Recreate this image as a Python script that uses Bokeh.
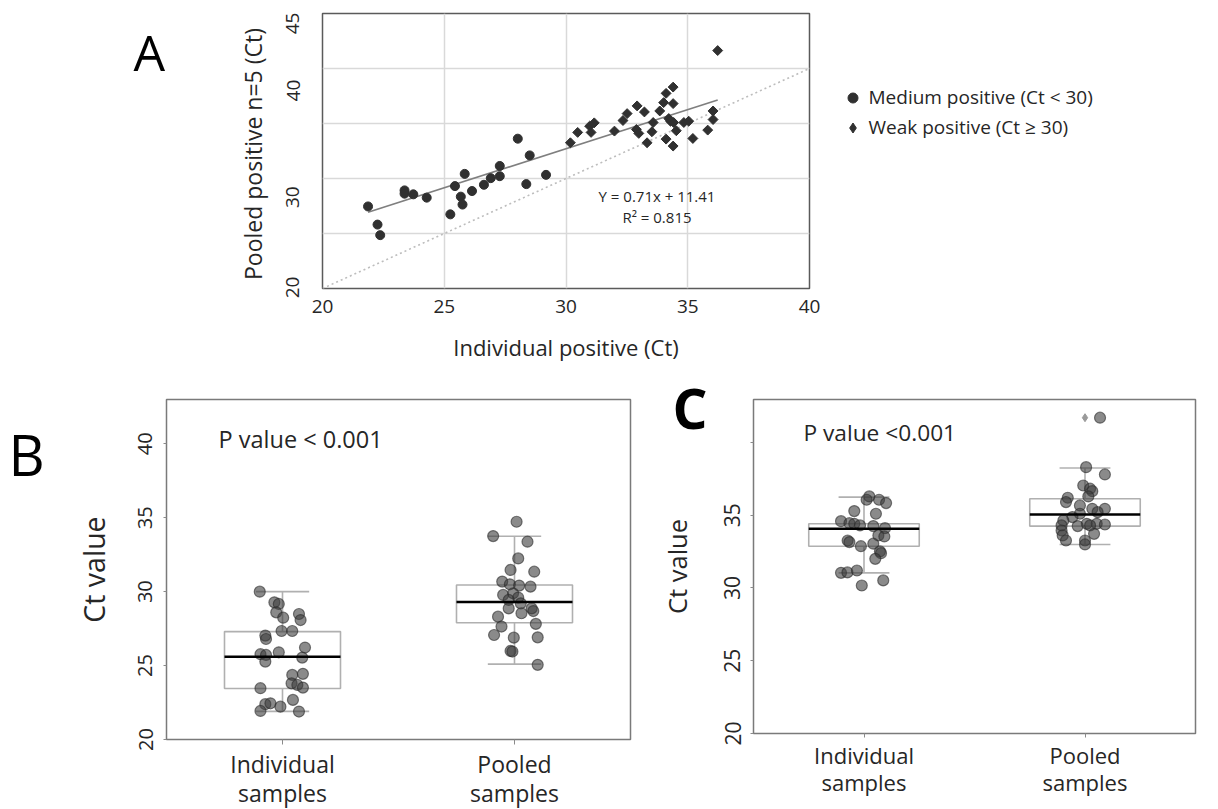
import numpy as np
from bokeh.plotting import figure
from bokeh.layouts import column, row
from bokeh.models import Range1d, FixedTicker, Label, Legend, LegendItem, GridBox
from bokeh.embed import file_html
from bokeh.resources import INLINE

FONT = "Open Sans"
TXT = "#262626"

# ---------------- Panel A data ----------------
medium_x = [21.87, 22.26, 22.37, 23.37, 23.37, 23.73, 24.28, 25.25, 25.44, 25.68, 25.75,
            25.84, 26.14, 26.63, 26.91, 27.28, 27.28, 28.02, 28.37, 28.51, 29.18]
medium_y = [27.46, 25.81, 24.85, 28.92, 28.62, 28.56, 28.26, 26.74, 29.31, 28.35, 27.63,
            30.42, 28.86, 29.43, 30.03, 31.14, 30.21, 33.62, 29.49, 32.10, 30.33]
weak_x = [30.18, 30.48, 30.97, 31.03, 31.16, 31.99, 32.34, 32.51, 32.92, 32.89, 32.99,
          33.22, 33.33, 33.53, 33.58, 33.85, 34.11, 34.01, 34.11, 34.22, 34.29, 34.40,
          34.40, 34.40, 34.42, 34.53, 34.84, 35.04, 35.21, 35.82, 36.04, 36.04, 36.23]
weak_y = [33.25, 34.19, 34.76, 34.19, 35.06, 34.31, 35.27, 35.90, 36.60, 34.46, 34.10,
          36.05, 33.25, 34.25, 35.09, 36.14, 37.74, 36.90, 33.58, 35.45, 35.21, 38.31,
          36.81, 32.95, 35.09, 34.34, 35.09, 35.21, 33.64, 34.40, 36.14, 35.36, 41.63]
fit_slope = 0.71
fit_intercept = 11.41
a_xticks = [20, 25, 30, 35, 40]
a_ygrid = [25, 30, 35, 40]
# y tick labels of panel A, placed where the source figure prints them
a_ytick_pos = [20.1, 28.3, 38.0, 44.1]
a_ytick_lab = ["20", "30", "40", "45"]
legend_labels = ["Medium positive (Ct < 30)", "Weak positive (Ct \u2265 30)"]
panel_letters = ["A", "B", "C"]

# ---------------- Panel B data ----------------
categories = ["Individual\nsamples", "Pooled\nsamples"]
b_ind = [30.0, 29.28, 29.17, 28.6, 28.24, 28.49, 28.08, 27.03, 26.80, 27.34, 27.34, 26.22,
         25.77, 25.72, 25.9, 25.54, 25.27, 24.37, 24.44, 23.8, 23.69, 23.51, 23.47, 22.68,
         22.39, 22.45, 21.93, 22.22, 21.89]
b_ind_jit = [-0.098, -0.035, -0.016, -0.027, 0.003, 0.071, 0.078, -0.074, -0.071, -0.004,
             0.042, 0.097, -0.095, -0.071, -0.016, 0.085, -0.074, 0.042, 0.088, 0.039,
             0.064, 0.088, -0.095, 0.045, -0.074, -0.052, -0.095, -0.009, 0.071]
b_pool = [34.73, 33.76, 33.38, 32.25, 31.47, 31.35, 30.68, 30.5, 30.41, 30.34, 29.78, 29.89,
          29.6, 29.44, 29.21, 28.87, 28.69, 28.54, 28.31, 28.87, 27.82, 27.64, 27.07, 26.89,
          26.91, 25.99, 25.95, 25.05]
b_pool_jit = [0.009, -0.092, 0.056, 0.016, -0.017, 0.085, -0.053, -0.02, 0.02, 0.069,
              -0.049, -0.006, 0.016, -0.025, 0.027, 0.074, 0.081, 0.03, -0.071, -0.025,
              0.092, -0.056, -0.088, -0.003, 0.1, -0.017, -0.009, 0.1]
# box stats: lower whisker, q1, median, q3, upper whisker
b_low = [21.9, 25.1]
b_q1 = [23.45, 27.9]
b_med = [25.6, 29.3]
b_q3 = [27.3, 30.45]
b_high = [30.0, 33.75]
b_yticks = [20, 25, 30, 35, 40]
b_ylabels = ["20", "25", "30", "35", "40"]

# ---------------- Panel C data ----------------
c_ind = [36.29, 36.06, 36.06, 35.83, 35.28, 35.1, 34.59, 34.45, 34.41, 34.3, 34.25, 34.11,
         33.61, 33.54, 33.26, 33.15, 33.04, 32.87, 32.51, 32.39, 32.0, 31.04, 31.07, 31.2,
         30.52, 30.17]
c_ind_jit = [0.024, 0.012, 0.068, 0.1, -0.044, 0.054, -0.104, -0.066, -0.044, -0.018, 0.042,
             0.095, 0.065, 0.092, -0.074, -0.066, 0.042, -0.014, 0.072, 0.077, 0.051, -0.104,
             -0.075, -0.032, 0.087, -0.01]
c_pool = [41.7, 38.3, 37.8, 37.04, 36.82, 36.65, 36.2, 35.9, 36.29, 35.67, 35.44, 35.44,
          35.21, 35.1, 34.87, 34.64, 34.3, 34.41, 34.41, 34.36, 33.95, 34.25, 34.3, 33.72,
          33.61, 33.26, 33.26, 32.99]
c_pool_jit = [0.068, 0.005, 0.09, -0.008, 0.023, 0.033, -0.078, -0.086, 0.015, -0.023, 0.033,
              0.09, 0.057, -0.023, -0.057, -0.098, -0.106, 0.008, 0.053, 0.09, -0.106, -0.033,
              0.023, 0.041, -0.101, -0.086, 0.0, 0.0]
c_low = [31.04, 32.99]
c_q1 = [32.87, 34.25]
c_med = [34.07, 35.05]
c_q3 = [34.41, 36.13]
c_high = [36.24, 38.24]
c_outlier = [41.7]
c_yticks = [20, 25, 30, 35, 40]
c_ylabels = ["20", "25", "30", "35", ""]

PAGE_W, PAGE_H = 1216, 807


def base_axes(p, tick_size, title_size):
    for ax in (p.xaxis[0], p.yaxis[0]):
        ax.axis_line_color = None
        ax.minor_tick_line_color = None
        ax.major_label_text_font = FONT
        ax.major_label_text_color = TXT
        ax.major_label_text_font_size = tick_size
        ax.axis_label_text_font = FONT
        ax.axis_label_text_font_style = "normal"
        ax.axis_label_text_color = TXT
        ax.axis_label_text_font_size = title_size


# ================= Panel A =================
pA = figure(width=1216, height=383, frame_width=487, frame_height=275,
            x_range=Range1d(20, 40), y_range=Range1d(20, 45),
            output_backend="svg", toolbar_location=None,
            min_border_left=322, min_border_right=407, min_border_top=13, min_border_bottom=95)
pA.outline_line_color = "#5a5a5a"
pA.outline_line_width = 1.5
base_axes(pA, "19px", "22px")
pA.yaxis.axis_label_text_font_size = "23px"
pA.xaxis.axis_label = "Individual positive (Ct)"
pA.yaxis.axis_label = "Pooled positive  n=5 (Ct)"
pA.xaxis.ticker = FixedTicker(ticks=a_xticks)
pA.yaxis.ticker = FixedTicker(ticks=a_ytick_pos)
pA.yaxis.major_label_overrides = {float(v): l for v, l in zip(a_ytick_pos, a_ytick_lab)}
pA.yaxis.major_label_orientation = "vertical"
for ax in (pA.xaxis[0], pA.yaxis[0]):
    ax.major_tick_line_color = None
    ax.major_tick_out = 0
    ax.major_tick_in = 0
pA.xaxis.major_label_standoff = 11
pA.yaxis.major_label_standoff = 23
pA.xaxis.axis_label_standoff = 16
pA.yaxis.axis_label_standoff = 15
pA.xgrid.ticker = FixedTicker(ticks=a_xticks[1:-1])
pA.ygrid.ticker = FixedTicker(ticks=a_ygrid)
for g in (pA.xgrid[0], pA.ygrid[0]):
    g.grid_line_color = "#d9d9d9"
    g.grid_line_width = 1.5

pA.line([20, 40], [20, 40], line_color="#bdbdbd", line_width=1.6, line_dash="2 3")
all_x = medium_x + weak_x
fx = np.array([min(all_x), max(all_x)])
pA.line(fx, fit_slope * fx + fit_intercept, line_color="#7f7f7f", line_width=1.6)
pA.scatter(medium_x, medium_y, marker="circle", size=9,
           fill_color="#303030", line_color="#303030")
pA.scatter(weak_x, weak_y, marker="square", angle=np.pi / 4, size=7,
           fill_color="#303030", line_color="#303030")
pA.add_layout(Label(x=334.5, y=92.5, x_units="screen", y_units="screen",
                    text="Y = 0.71x + 11.41", text_align="center", text_baseline="alphabetic",
                    text_font=FONT, text_font_size="15px", text_color=TXT))
pA.add_layout(Label(x=334.5, y=71.5, x_units="screen", y_units="screen",
                    text="R\u00b2 = 0.815", text_align="center", text_baseline="alphabetic",
                    text_font=FONT, text_font_size="15px", text_color=TXT))


# ================= Panels B and C =================
def box_panel(mb_left, fw, mb_right, mb_top, fh, mb_bottom, y_end, ind, ind_jit, pool, pool_jit,
              low, q1, med, q3, high, yticks, ylabels, tick_size, title_size,
              xlab_size, xlab_lh, xtick_out, xstand):
    p = figure(width=mb_left + fw + mb_right, height=mb_top + fh + mb_bottom,
               frame_width=fw, frame_height=fh,
               x_range=Range1d(0, 2), y_range=Range1d(20, y_end),
               output_backend="svg", toolbar_location=None,
               min_border_left=mb_left, min_border_right=mb_right,
               min_border_top=mb_top, min_border_bottom=mb_bottom)
    p.outline_line_color = "#7a7a7a"
    p.outline_line_width = 1.5
    p.grid.visible = False
    base_axes(p, tick_size, title_size)
    centers = [i + 0.5 for i in range(len(categories))]
    p.xaxis.ticker = FixedTicker(ticks=centers)
    p.xaxis.major_label_overrides = {float(c): lab for c, lab in zip(centers, categories)}
    p.xaxis.major_label_text_font_size = xlab_size
    p.xaxis.major_label_text_line_height = xlab_lh
    p.yaxis.ticker = FixedTicker(ticks=yticks)
    p.yaxis.major_label_overrides = {float(v): l for v, l in zip(yticks, ylabels)}
    p.yaxis.major_label_orientation = "vertical"
    p.yaxis.axis_label = "Ct value"
    for ax in (p.xaxis[0], p.yaxis[0]):
        ax.major_tick_line_color = "#8a8a8a"
        ax.major_tick_in = 0
    p.xaxis.major_tick_out = xtick_out
    p.yaxis.major_tick_out = 3
    p.xaxis.major_label_standoff = xstand

    box_c = "#b0b0b0"
    p.vbar(x=centers, width=0.5, bottom=q1, top=q3, fill_color=None,
           line_color=box_c, line_width=1.6)
    p.segment(x0=centers, y0=q3, x1=centers, y1=high, line_color=box_c, line_width=1.6)
    p.segment(x0=centers, y0=low, x1=centers, y1=q1, line_color=box_c, line_width=1.6)
    cx = np.array(centers)
    p.segment(x0=cx - 0.115, y0=high, x1=cx + 0.115, y1=high, line_color=box_c, line_width=1.6)
    p.segment(x0=cx - 0.115, y0=low, x1=cx + 0.115, y1=low, line_color=box_c, line_width=1.6)
    for k, (vals, jit) in enumerate(((ind, ind_jit), (pool, pool_jit))):
        xs = [centers[k] + j for j in jit]
        p.scatter(xs, vals, marker="circle", size=11, fill_color="#3c3c3c", fill_alpha=0.6,
                  line_color="#2a2a2a", line_alpha=0.6, line_width=1.2)
    p.segment(x0=cx - 0.25, y0=med, x1=cx + 0.25, y1=med, line_color="black", line_width=2.6)
    return p, centers


pB, centersB = box_panel(166, 464, 10, 13, 340, 71, 43.0, b_ind, b_ind_jit, b_pool, b_pool_jit,
                         b_low, b_q1, b_med, b_q3, b_high, b_yticks, b_ylabels,
                         "20px", "28.5px", "23px", 0.92, 5, 3)
pB.yaxis.major_label_standoff = 11
pB.yaxis.axis_label_standoff = 23
pB.add_layout(Label(x=52, y=300.5, x_units="screen", y_units="screen", text="P value < 0.001",
                    text_baseline="alphabetic", text_font=FONT, text_font_size="23.5px",
                    text_color=TXT))

pC, centersC = box_panel(113, 442, 21, 16, 334, 64, 42.95, c_ind, c_ind_jit, c_pool, c_pool_jit,
                         c_low, c_q1, c_med, c_q3, c_high, c_yticks, c_ylabels,
                         "21px", "25.5px", "22px", 0.9, 4, 2)
pC.yaxis.major_label_standoff = 10
pC.yaxis.axis_label_standoff = 28
pC.scatter([centersC[1]] * len(c_outlier), c_outlier, marker="diamond", size=8,
           fill_color="#9a9a9a", line_color="#9a9a9a")
pC.add_layout(Label(x=50, y=301, x_units="screen", y_units="screen", text="P value <0.001",
                    text_baseline="alphabetic", text_font=FONT, text_font_size="22.7px",
                    text_color=TXT))

main = column(pA, row(pB, pC))

# ================= overlay: panel letters and legend of panel A =================
ov = figure(width=PAGE_W, height=PAGE_H, x_range=Range1d(0, PAGE_W), y_range=Range1d(0, PAGE_H),
            output_backend="svg", toolbar_location=None,
            x_axis_location=None, y_axis_location=None,
            min_border=0, min_border_left=0, min_border_right=0,
            min_border_top=0, min_border_bottom=0)
ov.grid.visible = False
ov.outline_line_color = None
ov.background_fill_alpha = 0
ov.border_fill_alpha = 0
# legend proxies (one point placed outside the visible range so the glyph style is available)
lg_med = ov.scatter([-50], [-50], marker="circle", fill_color="#303030", line_color="#303030")
lg_weak = ov.scatter([-50], [-50], marker="diamond", angle=np.pi / 2,
                     fill_color="#303030", line_color="#303030")
leg = Legend(items=[LegendItem(label=legend_labels[0], renderers=[lg_med], index=0),
                    LegendItem(label=legend_labels[1], renderers=[lg_weak], index=0)],
             location=(839.5, PAGE_H - 85 - 55), padding=0, margin=0, spacing=4,
             glyph_width=25, glyph_height=25, label_height=25, label_standoff=4,
             border_line_color=None, background_fill_alpha=0,
             label_text_font=FONT, label_text_font_size="19px", label_text_color=TXT)
ov.add_layout(leg)
letter_pos = [(133, PAGE_H - 51, "normal", "50px"),
              (8, PAGE_H - 453, "normal", "56px"),
              (672, PAGE_H - 407, "bold", "55px")]
for letter, (lx, ly, fs, sz) in zip(panel_letters, letter_pos):
    ov.add_layout(Label(x=lx, y=ly, x_units="screen", y_units="screen", text=letter,
                        text_baseline="alphabetic", text_font=FONT, text_font_size=sz,
                        text_font_style=fs, text_color="black"))

page = GridBox(children=[(main, 0, 0), (ov, 0, 0)])
open("out.html", "w").write(file_html(page, INLINE))
